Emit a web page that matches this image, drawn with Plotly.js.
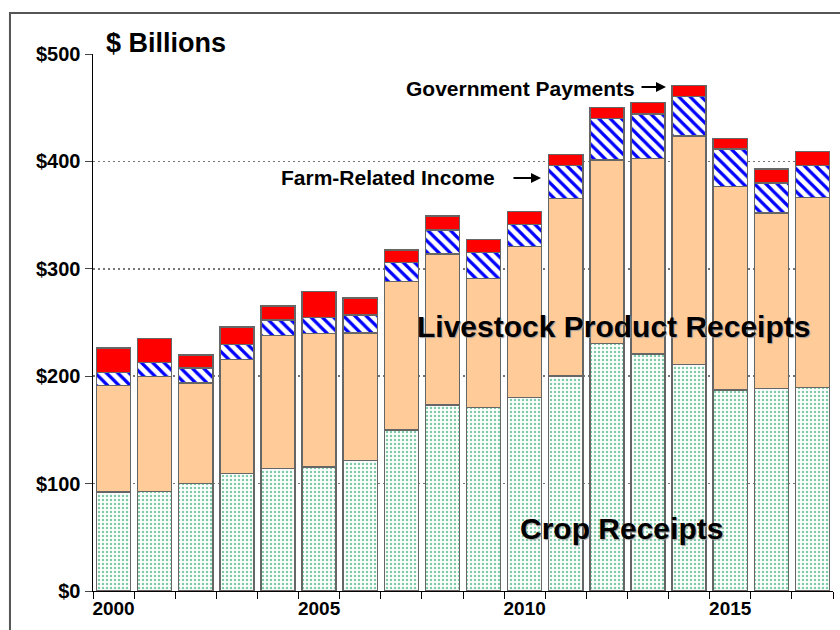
<!DOCTYPE html>
<html>
<head>
<meta charset="utf-8">
<script src="https://cdn.plot.ly/plotly-3.0.1.min.js"></script>
<style>html,body{margin:0;padding:0;background:#fff;}#chart{width:840px;height:630px;}</style>
</head>
<body>
<div id="chart"></div>
<script>
const years = [2000,2001,2002,2003,2004,2005,2006,2007,2008,2009,2010,2011,2012,2013,2014,2015,2016,2017];
const cropReceipts = [92,92.5,100,109.5,114,115.5,121.5,150,173,171,180,200,230.5,220.5,211,187,188.5,189.5];
const livestockReceipts = [99.3,107.1,93.5,106.1,123.8,124.2,118.6,138.1,140.6,120.1,140.9,165.4,170.7,182.4,212.8,189.5,163.5,177];
const farmRelatedIncome = [12.1,13,14.2,14,14.6,14.9,17.1,18,22.3,24,20.5,30.7,38.8,41.3,36.6,34.9,28,29.7];
const governmentPayments = [22.7,22.7,12.1,16.4,13.1,24.5,15.5,11.5,13.4,12.3,12.1,10.3,10.3,10.6,10.3,10,12.7,13.1];
const yTicks = [0,100,200,300,400,500];
const xTickYears = [2000,2005,2010,2015];

const outline = {color:'#666', width:1.5};
const traces = [
  {type:'bar', name:'Crop Receipts', x:years, y:cropReceipts,
   marker:{color:'#ffffff', line:outline, pattern:{shape:'.', fgcolor:'#7fcca8', bgcolor:'#ffffff', size:4, solidity:0.3}}},
  {type:'bar', name:'Livestock Product Receipts', x:years, y:livestockReceipts,
   marker:{color:'#FFCC99', line:outline}},
  {type:'bar', name:'Farm-Related Income', x:years, y:farmRelatedIncome,
   marker:{color:'#ffffff', line:outline, pattern:{shape:'\\', fgcolor:'#0000ff', bgcolor:'#ffffff', size:8, solidity:0.4}}},
  {type:'bar', name:'Government Payments', x:years, y:governmentPayments,
   marker:{color:'#FF0000', line:outline}}
];

const F = 'Liberation Sans, Arial, sans-serif';
const px2x = p => 1999.5 + (p - 93) / (740/18);
const py2y = p => (591 - p) / (537/500);
const shadow = '1px 1px 1px #999';

const layout = {
  width:840, height:630,
  margin:{l:93, r:7, t:54, b:39},
  paper_bgcolor:'#ffffff', plot_bgcolor:'#ffffff',
  barmode:'stack', bargap:0.17,
  showlegend:false,
  hovermode:false,
  font:{family:F, color:'#000'},
  xaxis:{
    range:[1999.5, 2017.5], tickvals:xTickYears, ticktext:xTickYears.map(v=>'<b>'+v+'</b>'),
    ticks:'', tickfont:{size:19, family:F}, showgrid:false, zeroline:false,
    showline:true, linecolor:'#000', linewidth:1,
    minor:{tick0:1999.5, dtick:1, ticks:'outside', ticklen:7, tickcolor:'#000', tickwidth:1, showgrid:false}
  },
  yaxis:{
    range:[0,500], tickvals:yTicks, ticktext:yTicks.map(v=>'<b>$'+v+'</b>'),
    ticks:'outside', ticklen:7, tickcolor:'#444', tickfont:{size:20, family:F},
    showgrid:true, griddash:'2px,3px', gridcolor:'#777', gridwidth:1.5, zeroline:false,
    showline:true, linecolor:'#000', linewidth:1.5
  },
  shapes:[
    {type:'path', xref:'paper', yref:'paper', layer:'above',
     path:'M -0.1122 -0.08 L -0.1122 1.0764 L 1.02 1.0764',
     line:{color:'#555', width:2}}
  ],
  annotations:[
    {xref:'paper', yref:'paper', x:(166-93)/740, y:(591-43)/537, xanchor:'center', yanchor:'middle', showarrow:false,
     text:'<b>$ Billions</b>', font:{size:27, family:F}},
    {x:px2x(520), y:py2y(88), xanchor:'center', yanchor:'middle', showarrow:false,
     text:'<b>Government Payments</b>', font:{size:21, family:F}},
    {x:px2x(666), y:py2y(87), ax:-26, ay:0, axref:'pixel', ayref:'pixel', text:'', showarrow:true,
     arrowhead:2, arrowsize:1, arrowwidth:2, arrowcolor:'#000'},
    {x:px2x(388), y:py2y(177), xanchor:'center', yanchor:'middle', showarrow:false,
     text:'<b>Farm-Related Income</b>', font:{size:21, family:F}},
    {x:px2x(541), y:py2y(178), ax:-29, ay:0, axref:'pixel', ayref:'pixel', text:'', showarrow:true,
     arrowhead:2, arrowsize:1, arrowwidth:2, arrowcolor:'#000'},
    {x:px2x(613), y:py2y(326), xanchor:'center', yanchor:'middle', showarrow:false,
     text:'<b>Livestock Product Receipts</b>', font:{size:30, family:F, shadow:shadow}},
    {x:px2x(621), y:py2y(528), xanchor:'center', yanchor:'middle', showarrow:false,
     text:'<b>Crop Receipts</b>', font:{size:30, family:F, shadow:shadow}}
  ]
};

Plotly.newPlot('chart', traces, layout, {staticPlot:true, displayModeBar:false});
</script>
</body>
</html>
